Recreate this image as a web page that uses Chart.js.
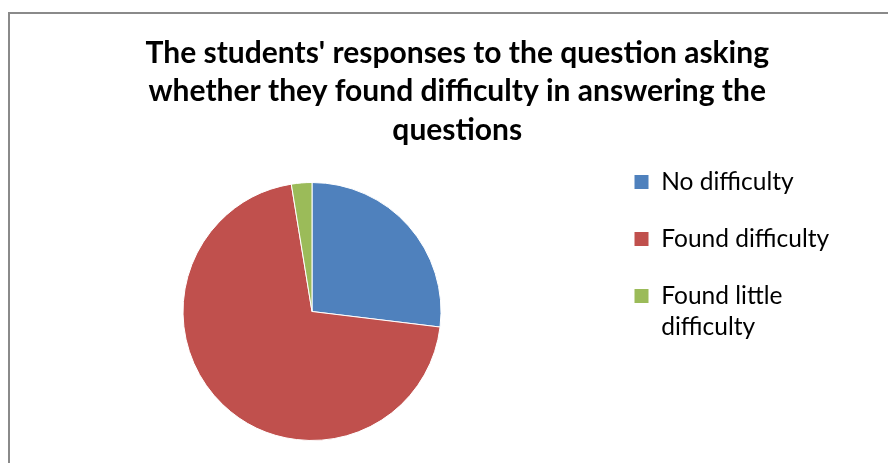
<!DOCTYPE html>
<html>
<head>
<meta charset="utf-8">
<script src="https://cdn.jsdelivr.net/npm/chart.js@4/dist/chart.umd.min.js"></script>
<style>
  html, body { margin: 0; padding: 0; background: #fff; overflow: hidden; }
  #frame {
    position: absolute; left: 8px; top: 12px;
    width: 1000px; height: 600px;
    border-left: 2px solid #8a8a8a; border-top: 2px solid #8a8a8a;
  }
  #pie { position: absolute; left: 0; top: 0; }
</style>
</head>
<body>
<div id="frame">
  <canvas id="pie" width="894" height="449"></canvas>
</div>
<script>
// --- data ---
const categories = ['No difficulty', 'Found difficulty', ['Found little', 'difficulty']];
const responses = [21, 55, 2];
const sliceColors = ['#4F81BD', '#C0504D', '#9BBB59'];
const titleLines = [
  "The students' responses to the question asking",
  'whether they found difficulty in answering the',
  'questions'
];

// legend box is given a fixed width so the pie and title sit where Excel put them
const LEGEND_WIDTH = 290.5;

const legendWidthPlugin = {
  id: 'legendWidth',
  afterInit(chart) {
    const legend = chart.legend;
    const fit = legend.fit;
    legend.fit = function () {
      fit.call(this);
      this.width = LEGEND_WIDTH;
    };
  }
};

const ctx = document.getElementById('pie').getContext('2d');

new Chart(ctx, {
  type: 'pie',
  data: {
    labels: categories,
    datasets: [{
      data: responses,
      backgroundColor: sliceColors,
      borderColor: '#ffffff',
      borderWidth: 1
    }]
  },
  options: {
    responsive: false,
    animation: false,
    layout: { padding: { left: 12.5, right: 12, top: 0, bottom: 22 } },
    plugins: {
      title: {
        display: true,
        text: titleLines,
        color: '#000',
        font: { family: 'Lato', size: 30, weight: 'bold', lineHeight: '38.5px' },
        padding: { top: 20, bottom: 32.5 }
      },
      legend: {
        position: 'right',
        align: 'center',
        // empty legend title only pushes the label column down
        title: { display: true, text: '', font: { size: 12, lineHeight: '60.5px' }, padding: 0 },
        labels: {
          color: '#000',
          font: { family: 'Lato', size: 24.5, lineHeight: '31px' },
          boxWidth: 15,
          boxHeight: 15,
          padding: 32.5
        }
      },
      tooltip: { enabled: false }
    }
  },
  plugins: [legendWidthPlugin]
});
</script>
</body>
</html>
